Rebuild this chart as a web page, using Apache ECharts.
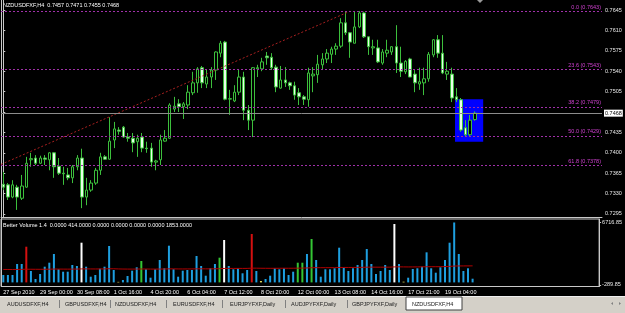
<!DOCTYPE html>
<html><head><meta charset="utf-8">
<script src="https://cdn.jsdelivr.net/npm/echarts@6/dist/echarts.min.js"></script>
<style>html,body{margin:0;padding:0;background:#000;}#c{width:625px;height:313px;}</style>
</head><body><div id="c"></div>
<script>
// ---- DATA ----
// candles: [open, close, low, high]
const candles = [
[0.7346,0.7341,0.7336,0.7367],[0.7345,0.7324,0.7319,0.7348],[0.7324,0.7345,0.7322,0.7353],[0.7341,0.7324,0.7302,0.7345],[0.7322,0.7343,0.7319,0.7362],
[0.7341,0.7382,0.7340,0.7393],[0.7388,0.7390,0.7376,0.7400],[0.7391,0.7382,0.7379,0.7396],[0.7382,0.7391,0.7381,0.7395],[0.7391,0.7389,0.7379,0.7396],
[0.7388,0.7400,0.7370,0.7401],[0.7400,0.7376,0.7357,0.7401],[0.7377,0.7365,0.7362,0.7391],[0.7365,0.7364,0.7345,0.7376],[0.7362,0.7357,0.7353,0.7374],
[0.7357,0.7376,0.7348,0.7379],[0.7376,0.7391,0.7370,0.7396],[0.7391,0.7324,0.7305,0.7407],[0.7324,0.7336,0.7310,0.7357],[0.7336,0.7348,0.7333,0.7353],
[0.7348,0.7370,0.7345,0.7374],[0.7370,0.7393,0.7362,0.7400],[0.7393,0.7389,0.7388,0.7396],[0.7389,0.7420,0.7388,0.7461],[0.7422,0.7441,0.7408,0.7453],
[0.7439,0.7437,0.7431,0.7444],[0.7444,0.7427,0.7426,0.7446],[0.7427,0.7425,0.7419,0.7434],[0.7425,0.7417,0.7401,0.7434],[0.7419,0.7425,0.7393,0.7431],
[0.7427,0.7408,0.7401,0.7434],[0.7408,0.7407,0.7400,0.7419],[0.7408,0.7384,0.7376,0.7417],[0.7384,0.7386,0.7370,0.7388],[0.7388,0.7422,0.7379,0.7431],
[0.7420,0.7425,0.7419,0.7439],[0.7425,0.7482,0.7424,0.7485],[0.7475,0.7480,0.7470,0.7496],[0.7484,0.7479,0.7470,0.7492],[0.7479,0.7484,0.7458,0.7487],
[0.7482,0.7504,0.7475,0.7516],[0.7503,0.7520,0.7499,0.7539],[0.7520,0.7544,0.7503,0.7547],[0.7546,0.7520,0.7511,0.7549],[0.7518,0.7530,0.7511,0.7542],
[0.7530,0.7542,0.7511,0.7547],[0.7542,0.7573,0.7525,0.7574],[0.7571,0.7588,0.7564,0.7592],[0.7590,0.7492,0.7490,0.7592],[0.7492,0.7493,0.7465,0.7508],
[0.7489,0.7504,0.7487,0.7516],[0.7504,0.7530,0.7499,0.7542],[0.7530,0.7473,0.7456,0.7539],[0.7473,0.7456,0.7439,0.7482],[0.7456,0.7546,0.7427,0.7547],
[0.7544,0.7546,0.7530,0.7551],[0.7544,0.7556,0.7540,0.7563],[0.7566,0.7563,0.7551,0.7573],[0.7564,0.7546,0.7542,0.7571],[0.7547,0.7513,0.7504,0.7551],
[0.7511,0.7525,0.7510,0.7549],[0.7525,0.7520,0.7513,0.7547],[0.7520,0.7515,0.7508,0.7522],[0.7515,0.7499,0.7491,0.7522],[0.7503,0.7496,0.7482,0.7511],
[0.7496,0.7492,0.7482,0.7499],[0.7491,0.7537,0.7479,0.7546],[0.7532,0.7535,0.7504,0.7547],[0.7534,0.7552,0.7520,0.7568],[0.7551,0.7561,0.7542,0.7571],
[0.7561,0.7571,0.7554,0.7578],[0.7569,0.7578,0.7554,0.7582],[0.7578,0.7583,0.7568,0.7588],[0.7583,0.7623,0.7580,0.7631],[0.7623,0.7606,0.7602,0.7643],
[0.7606,0.7590,0.7563,0.7607],[0.7588,0.7616,0.7588,0.7642],[0.7616,0.7640,0.7614,0.7643],[0.7640,0.7599,0.7597,0.7642],[0.7599,0.7582,0.7568,0.7599],
[0.7580,0.7582,0.7568,0.7594],[0.7580,0.7556,0.7554,0.7594],[0.7554,0.7573,0.7551,0.7578],[0.7571,0.7576,0.7564,0.7594],[0.7573,0.7582,0.7568,0.7583],
[0.7582,0.7554,0.7537,0.7619],[0.7554,0.7540,0.7530,0.7582],[0.7539,0.7557,0.7535,0.7559],[0.7561,0.7530,0.7530,0.7563],[0.7535,0.7520,0.7504,0.7542],
[0.7518,0.7522,0.7508,0.7546],[0.7520,0.7527,0.7499,0.7546],[0.7527,0.7569,0.7522,0.7573],[0.7568,0.7594,0.7564,0.7595],[0.7594,0.7571,0.7563,0.7602],
[0.7571,0.7537,0.7535,0.7602],[0.7535,0.7540,0.7525,0.7556],[0.7535,0.7494,0.7487,0.7546],[0.7496,0.7491,0.7487,0.7511],[0.7491,0.7439,0.7436,0.7494],
[0.7443,0.7431,0.7427,0.7456],[0.7431,0.7456,0.7427,0.7465],[0.7457,0.7468,0.7455,0.7471]
];
const volumes = [
830,830,830,2063,2063,4002,1278,381,942,1760,
2208,3184,1469,1199,1199,1951,1838,4450,1760,639,
830,1536,1760,4080,1390,60,269,717,1312,1693,
2399,1469,527,1469,2511,1581,4114,1469,639,1312,
1390,1390,2959,1838,751,1581,2063,2769,4753,1838,
1469,1581,1020,1390,5426,1278,157,381,751,1581,
1469,1581,830,1199,2208,2208,3184,4865,2511,639,
1469,1469,1581,3890,1648,1278,1581,1951,2511,3744,
2063,942,1278,1951,1390,6547,2063,78,527,1502,
1581,1760,3371,1581,1087,1693,2511,4450,6716.85,3184,
1278,1581,414
];
// Better Volume classes: b normal, r climax up, w climax down, g churn, y low
const volumeKind = ('bbbbbrbbbb'+'bbbbbbbwbb'+'bbbbbybbbb'+'gbbbbbbbbb'+'bbbbbbbgwb'+
  'bbbbrbybbb'+'bbbbggbgbb'+'bbbbbbbbbb'+'bbbbbwbybb'+'bbbbbbbbbb'+'bbb').split('');
const volumeAvg = [
1450,1448,1445,1452,1460,1478,1475,1470,1468,1472,
1480,1495,1492,1488,1485,1490,1494,1512,1515,1508,
1505,1508,1512,1530,1528,1510,1498,1492,1490,1494,
1502,1500,1492,1490,1498,1500,1518,1516,1508,1506,
1508,1510,1522,1524,1516,1518,1526,1540,1562,1565,
1566,1570,1568,1570,1598,1596,1585,1580,1578,1580,
1584,1588,1585,1586,1595,1604,1618,1645,1652,1648,
1650,1652,1654,1672,1676,1674,1676,1680,1688,1705,
1710,1706,1704,1708,1706,1738,1745,1738,1732,1734,
1738,1742,1756,1760,1758,1762,1770,1792,1830,1845,
1846,1850,1853
];
const dateLabels = ['27 Sep 2010','29 Sep 00:00','30 Sep 08:00','1 Oct 16:00','4 Oct 20:00','6 Oct 04:00',
  '7 Oct 12:00','8 Oct 20:00','12 Oct 00:00','13 Oct 08:00','14 Oct 16:00','17 Oct 21:00','19 Oct 04:00'];
const priceTicks = [0.7295,0.7330,0.7365,0.7400,0.7435,0.7470,0.7505,0.7540,0.7575,0.7610,0.7645];
const volumeTicks = [6716.85,-289.85];
const fibNames = ['0.0','23.6','38.2','50.0','61.8'];
const fibValues = [0.7643,0.7543,0.7479,0.7429,0.7378];
const bidPrice = 0.7468;
const trendLine = [[-0.5,0.7380],[75,0.7643]];
const boxCorners = [[97.7,0.7492],[103.8,0.7419]];
const titleText = 'NZDUSDFXF,H4  0.7457 0.7471 0.7455 0.7468';
const volTitle = 'Better Volume 1.4  0.0000 414.0000 0.0000 0.0000 0.0000 0.0000 1853.0000';
const tabs = ['AUDUSDFXF,H4','GBPUSDFXF,H4','NZDUSDFXF,H4','EURUSDFXF,H4','EURJPYFXF,Daily','AUDJPYFXF,Daily','GBPJPYFXF,Daily','NZDUSDFXF,H4'];

// ---- CHART ----
const SLOTS = 130;
const cats = Array.from({length: SLOTS}, (_, i) => i);
const kindColor = {b:'#1e9fe0', r:'#d41010', w:'#ffffff', g:'#34c634', y:'#e6df5a'};
const FONT = 'Liberation Sans, Arial, sans-serif';
const FS = 5.5;

const chart = echarts.init(document.getElementById('c'), null, {renderer: 'canvas'});

const tabX = [7,65,115,173,230,291,352,412];
const sepX = [59,110,166,222,285,347];
const graphics = [
  {type:'text', left:3, top:2, style:{text:titleText, fill:'#ffffff', font:`${FS}px ${FONT}`}},
  {type:'text', left:3, top:222, style:{text:volTitle, fill:'#ffffff', font:`${FS}px ${FONT}`}},
  {type:'polygon', shape:{points:[[477,0],[483,0],[480,3]]}, style:{fill:'#9a9a9a'}},
  {type:'rect', shape:{x:0,y:296,width:625,height:17}, style:{fill:'#d4d0c8'}},
  {type:'line', shape:{x1:0,y1:296.5,x2:625,y2:296.5}, style:{stroke:'#f0f0f0',lineWidth:1}},
  {type:'rect', shape:{x:406,y:297,width:56,height:13}, style:{fill:'#ffffff', stroke:'#404040', lineWidth:1}},
  {type:'polygon', shape:{points:[[611,303.5],[613,302],[613,305]]}, style:{fill:'#808080'}},
  {type:'polygon', shape:{points:[[619,302],[621,303.5],[619,305]]}, style:{fill:'#808080'}},
  {type:'line', shape:{x1:1.5,y1:0,x2:1.5,y2:287}, style:{stroke:'#c8c8c8',lineWidth:1}}
];
tabs.forEach((t, i) => graphics.push({type:'text', left:tabX[i], top:301, style:{text:t, fill:'#202020', font:`${FS}px ${FONT}`}}));
sepX.forEach(x => graphics.push({type:'line', shape:{x1:x+0.5,y1:300,x2:x+0.5,y2:308}, style:{stroke:'#808080',lineWidth:1}}));

const fibLines = fibValues.map((v, i) => ({yAxis:v, name:fibNames[i],
  lineStyle:{color:'#a030a8', type:[2,2], width:1},
  label:{show:true, position:'insideEndTop', distance:[1,1], color:'#d040d0', fontSize:FS,
    formatter: fibNames[i] + ' (' + v.toFixed(4) + ')'}}));
const bidLine = {yAxis:bidPrice, lineStyle:{color:'#8c8c8c', type:'solid', width:1},
  label:{show:true, position:'end', distance:2, color:'#000', backgroundColor:'#ffffff', padding:[1,1,0,1], fontSize:FS,
    formatter: bidPrice.toFixed(4)}};

const option = {
  backgroundColor: '#000000',
  animation: false,
  textStyle: {fontFamily: FONT},
  grid: [
    {left:1, right:23, top:0, height:217, show:false},
    {left:1, right:23, top:219, height:67.5, show:true, borderColor:'#c8c8c8', borderWidth:1, backgroundColor:'transparent'}
  ],
  xAxis: [
    {type:'category', gridIndex:0, data:cats, boundaryGap:true, axisLine:{show:true, onZero:false, lineStyle:{color:'#c8c8c8'}}, axisTick:{show:false}, axisLabel:{show:false}, splitLine:{show:false}},
    {type:'value', gridIndex:0, min:-0.5, max:SLOTS-0.5, show:false},
    {type:'category', gridIndex:1, data:cats, boundaryGap:true, axisLine:{show:false}, axisTick:{show:false}, splitLine:{show:false},
     axisLabel:{show:true, color:'#ffffff', fontSize:FS, margin:3, align:'left',
       interval:(i) => i % 8 === 0 && (i/8) < dateLabels.length,
       formatter:(v, i) => dateLabels[i/8] || ''}}
  ],
  yAxis: [
    {type:'value', gridIndex:0, position:'right', min:0.72898, max:0.76622, scale:true,
     axisLine:{show:true, lineStyle:{color:'#c8c8c8'}},
     axisTick:{show:true, length:2, lineStyle:{color:'#c8c8c8'}, customValues:priceTicks},
     axisLabel:{show:true, color:'#e8e8e8', fontSize:FS, margin:3, customValues:priceTicks, formatter:(v)=>v.toFixed(4)},
     splitLine:{show:false}},
    {type:'value', gridIndex:1, position:'right', min:-460, max:7107,
     axisLine:{show:true, lineStyle:{color:'#c8c8c8'}},
     axisTick:{show:true, length:2, lineStyle:{color:'#c8c8c8'}, customValues:volumeTicks},
     axisLabel:{show:true, color:'#e8e8e8', fontSize:FS, margin:3, customValues:volumeTicks, formatter:(v)=>v.toFixed(2)},
     splitLine:{show:false}}
  ],
  series: [
    {type:'line', xAxisIndex:1, yAxisIndex:0, data:[[0,0.75],[1,0.75]], lineStyle:{opacity:0}, symbol:'none', z:1, silent:true,
     markArea:{silent:true, itemStyle:{color:'#0000ff', opacity:1},
       data:[[{coord:boxCorners[0]},{coord:boxCorners[1]}]]},
     markLine:{silent:true, symbol:'none', animation:false, precision:6, data: fibLines.concat([bidLine])}},
    {type:'candlestick', xAxisIndex:0, yAxisIndex:0, data:candles, barWidth:3, z:2,
     itemStyle:{color:'#000000', color0:'#e8ffe8', borderColor:'#3cbf3c', borderColor0:'#3cbf3c', borderWidth:1}},
    {type:'line', xAxisIndex:1, yAxisIndex:0, data:trendLine, z:3, symbol:'none', silent:true,
     lineStyle:{color:'#a82020', type:[2,2], width:1}},
    {type:'bar', xAxisIndex:2, yAxisIndex:1, barWidth:2, silent:true,
     data: volumes.map((v, i) => ({value:v, itemStyle:{color:kindColor[volumeKind[i]]}}))},
    {type:'line', xAxisIndex:2, yAxisIndex:1, data:volumeAvg, symbol:'none', silent:true, z:3,
     lineStyle:{color:'#b00000', width:1}}
  ],
  graphic: graphics
};
chart.setOption(option);
</script></body></html>
